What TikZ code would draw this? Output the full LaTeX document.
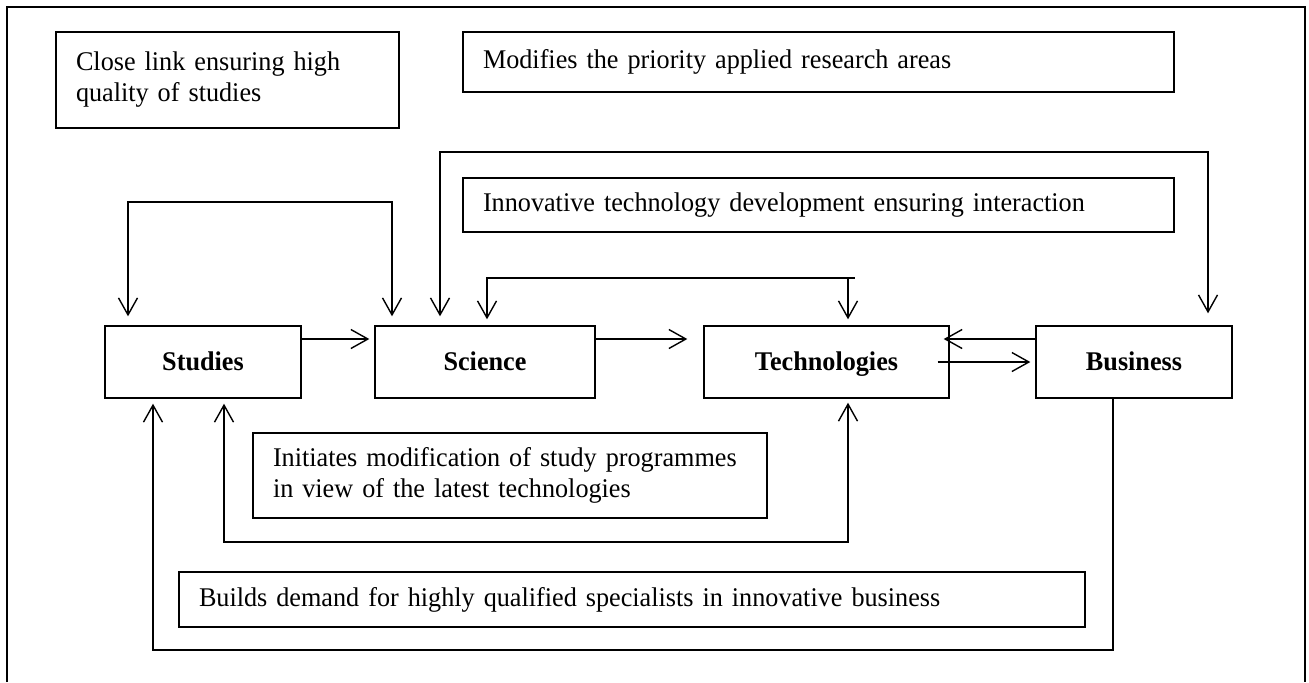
\documentclass[tikz,border=0pt]{standalone}
\usepackage{fontspec}
\setmainfont[FakeStretch=0.97]{Liberation Serif}
\usetikzlibrary{arrows.meta}

\tikzset{
  unit/.style={draw, line width=0.7pt, minimum height=36pt, text height=0.9em, text depth=0.1em, font=\fontsize{13.5}{15.5}\selectfont\bfseries},
  note/.style={draw, line width=0.7pt, align=left, inner xsep=10pt, inner ysep=0pt, font=\fontsize{13.5}{15.5}\selectfont},
  link/.style={line width=0.7pt},
}

\begin{document}
\begin{tikzpicture}[x=0.5pt, y=-0.5pt, >={Straight Barb[length=8.5pt,width=9.5pt]}]
  \useasboundingbox (0,0) rectangle (1309,682);
  \draw[link] (7,682) -- (7,7) -- (1305,7) -- (1305,682);
  \node[note, text width=151.5pt, minimum height=48pt] (Link) at (227.5,80) {Close link ensuring high\\quality of studies};
  \node[note, text width=335.5pt, minimum height=30pt] (Prio) at (818.5,62) {Modifies the priority applied research areas};
  \node[note, text width=335.5pt, minimum height=27pt] (Innov) at (818.5,205) {Innovative technology development ensuring interaction};
  \node[note, text width=237pt, minimum height=42.5pt] (Init) at (510,475.5) {Initiates modification of study programmes\\in view of the latest technologies};
  \node[note, text width=433pt, minimum height=27.5pt] (Demand) at (632,599.5) {Builds demand for highly qualified specialists in innovative business};
  \node[unit, minimum width=98pt] (Stud) at (203,362) {Studies};
  \node[unit, minimum width=110pt] (Sci) at (485,362) {Science};
  \node[unit, minimum width=122.5pt] (Tech) at (826.5,362) {Technologies};
  \node[unit, minimum width=98pt] (Bus) at (1134,362) {Business};
  \coordinate (TopA) at (0,202);
  \coordinate (TopB) at (0,152);
  \coordinate (TopC) at (0,278);
  \coordinate (LowA) at (0,542);
  \coordinate (LowB) at (0,650);
  \draw[link, ->, shorten >=2.5pt] ([yshift=11.5pt]Stud.east) -- ([yshift=11.5pt]Sci.west);
  \draw[link, ->, shorten >=8pt] ([yshift=11.5pt]Sci.east) -- ([yshift=11.5pt]Tech.west);
  \draw[link, ->, shorten >=-3pt] ([yshift=11.5pt]Bus.west) -- ([yshift=11.5pt]Tech.east);
  \draw[link, ->, shorten >=2.5pt] ([xshift=-6pt]Tech.east) -- (Bus.west);
  \draw[link, <->] ([xshift=-37.5pt, yshift=4.5pt]Stud.north) |- ([xshift=-46.5pt]Sci.north |- TopA) -- ([xshift=-46.5pt, yshift=4.5pt]Sci.north);
  \draw[link, <->] ([xshift=-22.5pt, yshift=4.5pt]Sci.north) |- ([xshift=37pt]Bus.north |- TopB) -- ([xshift=37pt, yshift=6pt]Bus.north);
  \draw[link, <->] ([xshift=1pt, yshift=3pt]Sci.north) |- ([xshift=10.75pt]Tech.north |- TopC) -- ([xshift=10.75pt, yshift=3pt]Tech.north);
  \draw[link] ([xshift=10.75pt]Tech.north |- TopC) -- ++(3.5pt,0);
  \draw[link, <->] ([xshift=10.5pt, yshift=-2.5pt]Stud.south) |- ([xshift=10.75pt]Tech.south |- LowA) -- ([xshift=10.75pt, yshift=-2pt]Tech.south);
  \draw[link, ->] ([xshift=-10.5pt]Bus.south) |- ([xshift=-25pt]Stud.south |- LowB) -- ([xshift=-25pt, yshift=-2.5pt]Stud.south);
\end{tikzpicture}
\end{document}
